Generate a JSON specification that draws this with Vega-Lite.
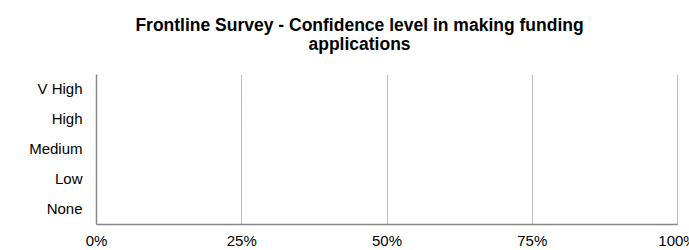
{
  "$schema": "https://vega.github.io/schema/vega-lite/v6.json",
  "autosize": "none",
  "padding": {"left": 96, "top": 74, "right": 12, "bottom": 26},
  "width": 581,
  "height": 150,
  "background": "white",
  "title": {
    "text": ["Frontline Survey - Confidence level in making funding", "applications"],
    "font": "Liberation Sans",
    "fontSize": 17.5,
    "fontWeight": "bold",
    "color": "#000000",
    "anchor": "middle",
    "dx": -27,
    "offset": 21,
    "lineHeight": 18.5
  },
  "data": {
    "values": [
      {"level": "V High", "share": 0},
      {"level": "High", "share": 0},
      {"level": "Medium", "share": 0},
      {"level": "Low", "share": 0},
      {"level": "None", "share": 0}
    ]
  },
  "mark": {"type": "bar", "color": "#4472C4"},
  "encoding": {
    "y": {
      "field": "level",
      "type": "nominal",
      "sort": ["V High", "High", "Medium", "Low", "None"],
      "title": null,
      "axis": {
        "ticks": false,
        "domainColor": "#888888",
        "domainWidth": 1.5,
        "labelFont": "Liberation Sans",
        "labelFontSize": 15,
        "labelColor": "#000000",
        "labelPadding": 14,
        "grid": false
      }
    },
    "x": {
      "field": "share",
      "type": "quantitative",
      "scale": {"domain": [0, 1], "nice": false},
      "title": null,
      "axis": {
        "format": ".0%",
        "values": [0, 0.25, 0.5, 0.75, 1],
        "ticks": false,
        "domainColor": "#888888",
        "domainWidth": 1.5,
        "labelFont": "Liberation Sans",
        "labelFontSize": 15,
        "labelColor": "#000000",
        "labelPadding": 9,
        "labelFlush": false,
        "grid": true,
        "gridColor": "#777777",
        "gridDash": [1, 1],
        "gridWidth": 1
      }
    }
  },
  "config": {"view": {"stroke": null}}
}
